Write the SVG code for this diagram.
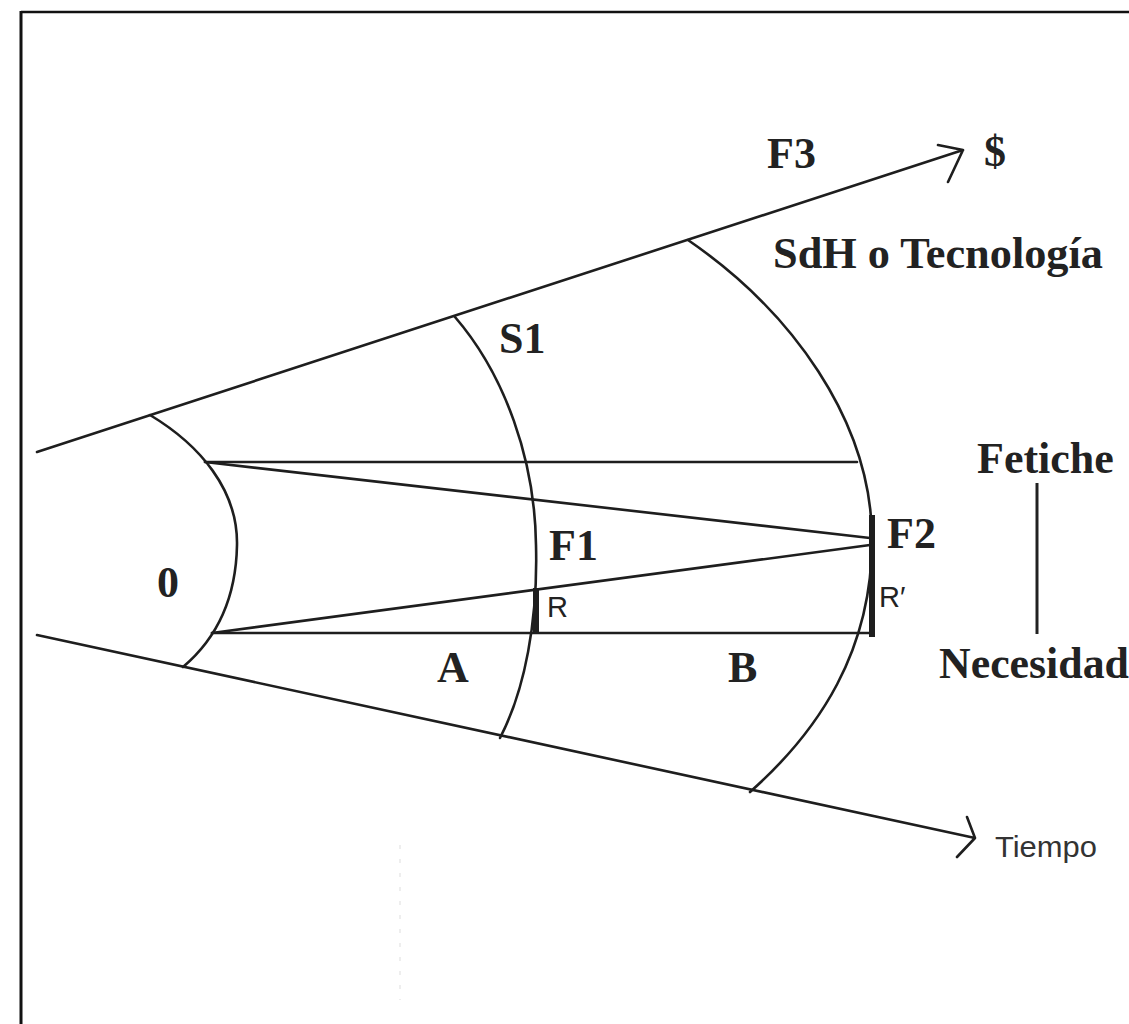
<svg xmlns="http://www.w3.org/2000/svg" width="1129" height="1024" viewBox="0 0 1129 1024">
<style>
.ln{fill:none;stroke:#1e1e1e;stroke-width:2.6;stroke-linecap:round;stroke-linejoin:round}
.bar{fill:#1e1e1e}
.t{font-family:"Liberation Serif","Times New Roman",serif;font-weight:bold;font-size:44px;fill:#222}
.s{font-family:"Liberation Sans",Arial,sans-serif;font-size:29px;fill:#222}
</style>
<rect width="1129" height="1024" fill="#fff"/>
<g id="frame">
<line x1="21" y1="12" x2="1129" y2="12" stroke="#111" stroke-width="2.5"/>
<line x1="21" y1="11" x2="21" y2="1024" stroke="#111" stroke-width="3"/>
</g>
<g id="connectors">
<path id="ray-dollar" class="ln" d="M37,452 L963,150 M938,145 L963,150 L948,182"/>
<path id="ray-tiempo" class="ln" d="M37,635 L975,838 M967,817 L975,838 L957,857"/>
<path id="arc0" class="ln" d="M150,415 C200,445 238,490 237,545 C236,600 215,640 183,667"/>
<path id="arcS1" class="ln" d="M455,317 C505,375 535,460 536,545 C538,620 525,690 500,738"/>
<path id="arcS2" class="ln" d="M688,240 C790,310 872,420 872,540 C872,650 820,730 750,792"/>
<path id="top-h" class="ln" d="M205,462 L857,462"/>
<path id="bot-h" class="ln" d="M212,633 L873,633"/>
<path id="conv-top" class="ln" d="M205,462 L870,538"/>
<path id="conv-bot" class="ln" d="M212,633 L870,545"/>
<rect id="barR" class="bar" x="533" y="588" width="6" height="46"/>
<rect id="barR2" class="bar" x="869" y="515" width="6" height="122"/>
<line id="fn-line" x1="1037" y1="483" x2="1037" y2="634" stroke="#222" stroke-width="3"/>
<line x1="400" y1="845" x2="400" y2="1000" stroke="#ddd" stroke-width="1" stroke-dasharray="4 10"/>
</g>
<g id="labels">
<text id="lbl-F3" class="t" x="767" y="168">F3</text>
<text id="lbl-dollar" class="t" x="984" y="166">$</text>
<text id="lbl-sdh" class="t" x="773" y="268" textLength="330" lengthAdjust="spacingAndGlyphs">SdH o Tecnología</text>
<text id="lbl-S1" class="t" x="499" y="353">S1</text>
<text id="lbl-F1" class="t" x="549" y="560">F1</text>
<text id="lbl-R" class="s" x="547" y="617">R</text>
<text id="lbl-F2" class="t" x="887" y="548">F2</text>
<text id="lbl-R2" class="s" x="879" y="607">R′</text>
<text id="lbl-0" class="t" x="157" y="597">0</text>
<text id="lbl-A" class="t" x="437" y="682">A</text>
<text id="lbl-B" class="t" x="728" y="682">B</text>
<text id="lbl-fetiche" class="t" x="977" y="473">Fetiche</text>
<text id="lbl-necesidad" class="t" x="939" y="678" textLength="190" lengthAdjust="spacingAndGlyphs">Necesidad</text>
<text id="lbl-tiempo" class="s" x="995" y="857" textLength="102" lengthAdjust="spacingAndGlyphs" style="fill:#333">Tiempo</text>
</g>
</svg>
